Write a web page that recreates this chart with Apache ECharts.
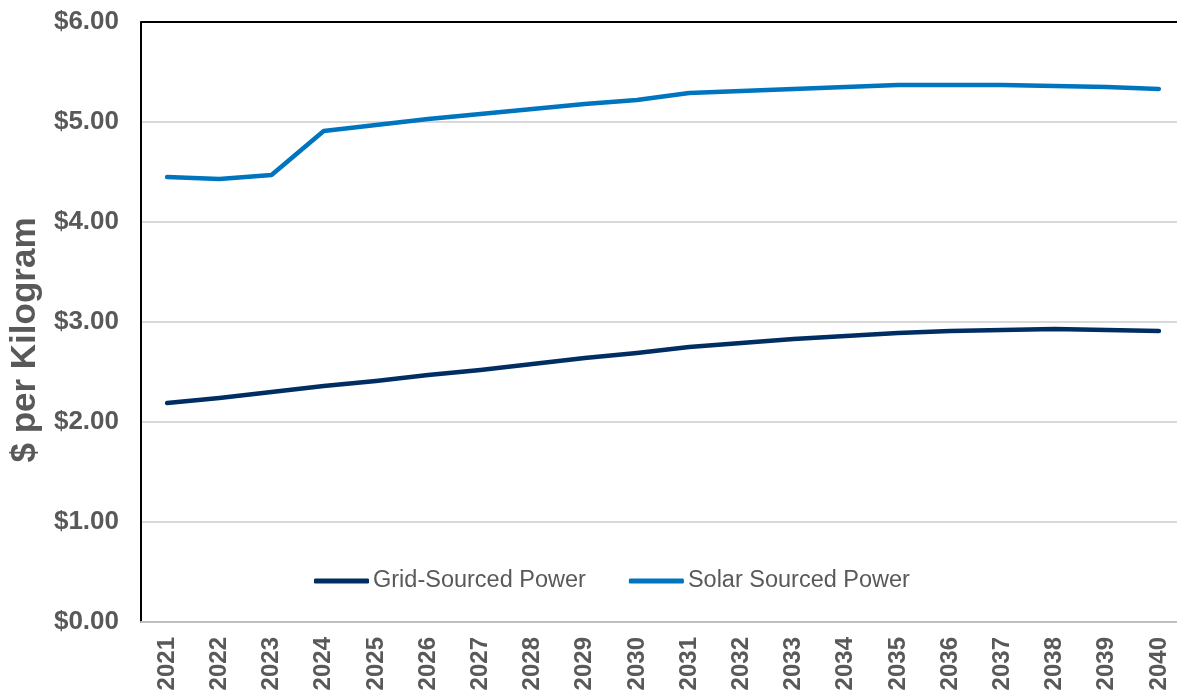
<!DOCTYPE html>
<html>
<head>
<meta charset="utf-8">
<script src="https://cdn.jsdelivr.net/npm/echarts@6/dist/echarts.min.js"></script>
<style>
  html, body { margin: 0; padding: 0; background: #fff; overflow: hidden; }
  /* a bit wider than the window: the plot runs past the right edge like the source */
  #chart { width: 1190px; height: 694px; }
</style>
</head>
<body>
<div id="chart"></div>
<script>
// years on the x axis
const years = ['2021', '2022', '2023', '2024', '2025', '2026', '2027', '2028', '2029', '2030',
  '2031', '2032', '2033', '2034', '2035', '2036', '2037', '2038', '2039', '2040']
// $ per kg
const gridPower = [2.19, 2.24, 2.30, 2.36, 2.41, 2.47, 2.52, 2.58, 2.64, 2.69,
  2.75, 2.79, 2.83, 2.86, 2.89, 2.91, 2.92, 2.93, 2.92, 2.91]
const solarPower = [4.45, 4.43, 4.47, 4.91, 4.97, 5.03, 5.08, 5.13, 5.18, 5.22,
  5.29, 5.31, 5.33, 5.35, 5.37, 5.37, 5.37, 5.36, 5.35, 5.33]
const seriesNames = ['Grid-Sourced Power', 'Solar Sourced Power']

const chart = echarts.init(document.getElementById('chart'))
const font = 'Liberation Sans, Arial, sans-serif'

const option = {
  animation: false,
  grid: { left: 140, right: 5, top: 22, bottom: 72, containLabel: false },
  legend: {
    data: seriesNames,
    left: 309,
    top: 564,
    icon: 'roundRect',
    itemWidth: 55,
    itemHeight: 5,
    itemGap: 43,
    textStyle: { fontFamily: font, fontSize: 23.5, color: '#595959', padding: [0, 0, 0, -1] }
  },
  xAxis: {
    type: 'category',
    data: years,
    boundaryGap: true,
    axisLine: { lineStyle: { color: '#bfbfbf', width: 2 } },
    axisTick: { show: false },
    axisLabel: {
      rotate: 90,
      interval: 0,
      margin: 15,
      fontFamily: font,
      fontWeight: 'bold',
      fontSize: 24,
      color: '#595959'
    }
  },
  yAxis: {
    type: 'value',
    min: 0,
    max: 6,
    interval: 1,
    name: '$ per Kilogram',
    nameLocation: 'middle',
    nameRotate: 90,
    nameGap: 98,
    nameTextStyle: {
      fontFamily: font, fontWeight: 'bold', fontSize: 35, color: '#595959',
      padding: [0, 36, 0, 0]
    },
    axisLine: { show: true, lineStyle: { color: '#000', width: 2 } },
    axisTick: { show: false },
    splitLine: {
      lineStyle: {
        color: ['#d9d9d9', '#d9d9d9', '#d9d9d9', '#d9d9d9', '#d9d9d9', '#d9d9d9', '#000'],
        width: 2
      }
    },
    axisLabel: {
      margin: 22,
      fontFamily: font,
      fontWeight: 'bold',
      fontSize: 26,
      color: '#595959',
      formatter: v => '$' + v.toFixed(2)
    }
  },
  series: [
    {
      name: seriesNames[0],
      type: 'line',
      data: gridPower,
      showSymbol: false,
      symbol: 'none',
      color: '#002e63',
      lineStyle: { width: 4.5, cap: 'round', join: 'round' }
    },
    {
      name: seriesNames[1],
      type: 'line',
      data: solarPower,
      showSymbol: false,
      symbol: 'none',
      color: '#0075bf',
      lineStyle: { width: 4.5, cap: 'round', join: 'round' }
    }
  ]
}
chart.setOption(option)
</script>
</body>
</html>
